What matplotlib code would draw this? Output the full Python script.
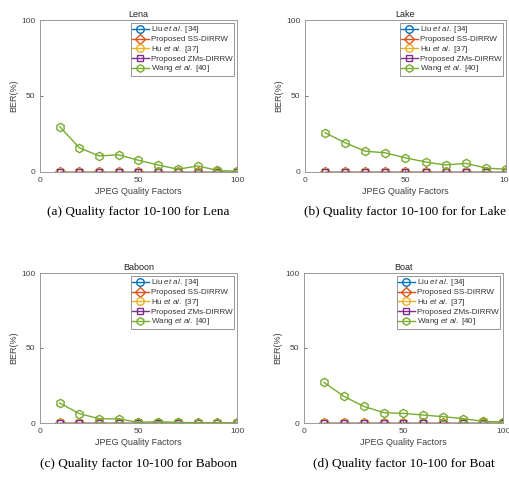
import numpy as np
import matplotlib
matplotlib.use("Agg")
import matplotlib.pyplot as plt

# JPEG quality factors
qf = [10, 20, 30, 40, 50, 60, 70, 80, 90, 100]

# BER(%) of Wang et al. [40] per image; all other methods are zero
wang_lena = [29.8, 15.9, 10.6, 11.3, 7.7, 4.6, 1.8, 4.0, 1.1, 0.4]
wang_lake = [25.8, 19.2, 13.7, 12.6, 9.3, 6.6, 4.6, 5.7, 2.6, 1.8]
wang_baboon = [13.3, 6.2, 2.9, 2.7, 0.4, 0.9, 0.4, 0.2, 0.2, 0.2]
wang_boat = [27.1, 17.8, 11.1, 6.9, 6.4, 5.3, 4.2, 2.9, 1.1, 0.7]
zeros = [0] * 10

titles = ["Lena", "Lake", "Baboon", "Boat"]
captions = ["(a) Quality factor 10-100 for Lena",
            "(b) Quality factor 10-100 for for Lake",
            "(c) Quality factor 10-100 for Baboon",
            "(d) Quality factor 10-100 for Boat"]
wang_all = [wang_lena, wang_lake, wang_baboon, wang_boat]

names = ["Liu $et\\ al.$ [34]", "Proposed SS-DIRRW", "Hu $et\\ al.$ [37]",
         "Proposed ZMs-DIRRW", "Wang $et\\ al.$ [40]"]
colors = ["#0072BD", "#D95319", "#EDB120", "#7E2F8E", "#77AC30"]
markers = ["o", "D", "o", "s", "h"]
msizes = [6, 5.5, 6, 5, 6]

plt.rcParams['font.family'] = ['Liberation Sans', 'DejaVu Sans']
plt.rcParams['mathtext.fontset'] = 'custom'
plt.rcParams['mathtext.it'] = 'Liberation Sans:italic'
plt.rcParams['mathtext.rm'] = 'Liberation Sans'

fig = plt.figure(figsize=(5.1, 4.8), dpi=100)

# axes boxes in pixels: left, top, right, bottom
boxes = [(40, 20, 237, 172), (305, 20, 506, 172),
         (40, 273, 237, 423), (304, 273, 503, 423)]
caption_y = [212, 212, 464, 464]

W, H = 510.0, 480.0
grey = "#404040"
for i in range(4):
    l, t, r, b = boxes[i]
    ax = fig.add_axes([l / W, 1 - b / H, (r - l) / W, (b - t) / H])
    series = [zeros, zeros, zeros, zeros, wang_all[i]]
    for k in range(5):
        ax.plot(qf, series[k], color=colors[k], marker=markers[k], markersize=msizes[k],
                markerfacecolor='none', markeredgewidth=1.0, linewidth=1.0, label=names[k])
    ax.set_xlim(0, 100)
    ax.set_ylim(0, 100)
    ax.set_xticks([0, 50, 100])
    ax.set_yticks([0, 50, 100])
    ax.tick_params(labelsize=6, colors=grey, length=2, width=0.5, direction='in')
    for s in ax.spines.values():
        s.set_color("#9a9a9a")
        s.set_linewidth(0.7)
    ax.set_title(titles[i], fontsize=6.5, color="#222222", pad=2)
    ax.set_xlabel("JPEG Quality Factors", fontsize=6.5, color=grey, labelpad=2)
    ax.set_ylabel("BER(%)", fontsize=6.5, color=grey, labelpad=2)
    leg = ax.legend(loc='upper right', fontsize=5.8, frameon=True, fancybox=False,
                    handlelength=2.0, borderpad=0.2, labelspacing=0.05,
                    handletextpad=0.3, borderaxespad=0.35, markerscale=0.9)
    leg.get_frame().set_edgecolor("#666666")
    leg.get_frame().set_linewidth(0.6)
    for txt in leg.get_texts():
        txt.set_color("#333333")
    fig.text((l + r) / 2 / W, 1 - caption_y[i] / H, captions[i], ha='center', va='center',
             fontsize=9.5, family='Liberation Serif')

fig.savefig("out.png", dpi=100)
